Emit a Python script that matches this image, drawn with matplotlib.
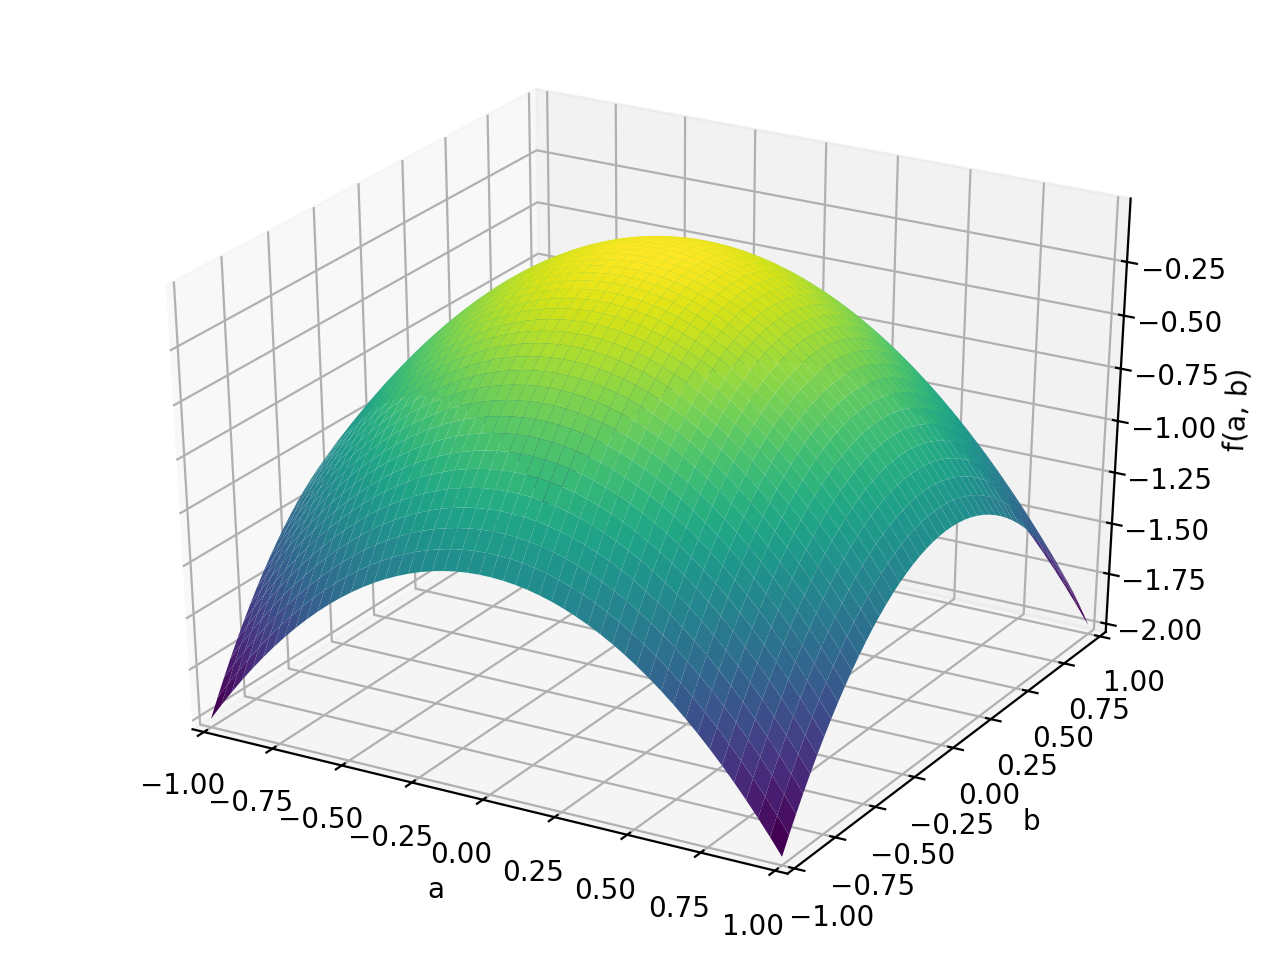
import numpy as np
import matplotlib
matplotlib.use('Agg')
import matplotlib.pyplot as plt

# grid positions along a and b (no point falls exactly on the centre)
half_grid = [0.020408, 0.061224, 0.102041, 0.142857, 0.183673, 0.224490, 0.265306, 0.306122,
             0.346939, 0.387755, 0.428571, 0.469388, 0.510204, 0.551020, 0.591837, 0.632653,
             0.673469, 0.714286, 0.755102, 0.795918, 0.836735, 0.877551, 0.918367, 0.959184, 1.0]
# drop of the surface at each grid position, centre to edge
half_drop = [0.00042, 0.00375, 0.01041, 0.02041, 0.03374, 0.05040, 0.07039, 0.09371,
             0.12037, 0.15035, 0.18367, 0.22033, 0.26031, 0.30362, 0.35027, 0.40025,
             0.45356, 0.51020, 0.57018, 0.63349, 0.70012, 0.77010, 0.84340, 0.92003, 1.0]
z_ticks = [-2.0, -1.75, -1.5, -1.25, -1.0, -0.75, -0.5, -0.25]

grid = np.array([-g for g in half_grid[::-1]] + half_grid)
drop = np.array(half_drop[::-1] + half_drop)

A, B = np.meshgrid(grid, grid)
# the height at a cell is the drop along a plus the drop along b
Z = -np.add.outer(drop, drop)

fig = plt.figure(figsize=(6.4, 4.8), dpi=200)
ax = fig.add_subplot(projection='3d')
ax.plot_surface(A, B, Z, cmap='viridis', rstride=1, cstride=1)
ax.set_xlabel('a')
ax.set_ylabel('b')
ax.set_zlabel('f(a, b)')
ax.set_zticks(z_ticks)
ax.set_xlim(grid[0], grid[-1], view_margin=1/48)
ax.set_ylim(grid[0], grid[-1], view_margin=1/48)
ax.set_zlim(Z.min(), Z.max(), view_margin=1/48)
ax.set_box_aspect((1, 1, 1))

# the box in the reference is stretched to the panel, so no square panel here
ax.apply_aspect = lambda position=None: None
ax.set_position([0.050, 0.059, 0.902, 0.886])
fig.savefig('out.png')
